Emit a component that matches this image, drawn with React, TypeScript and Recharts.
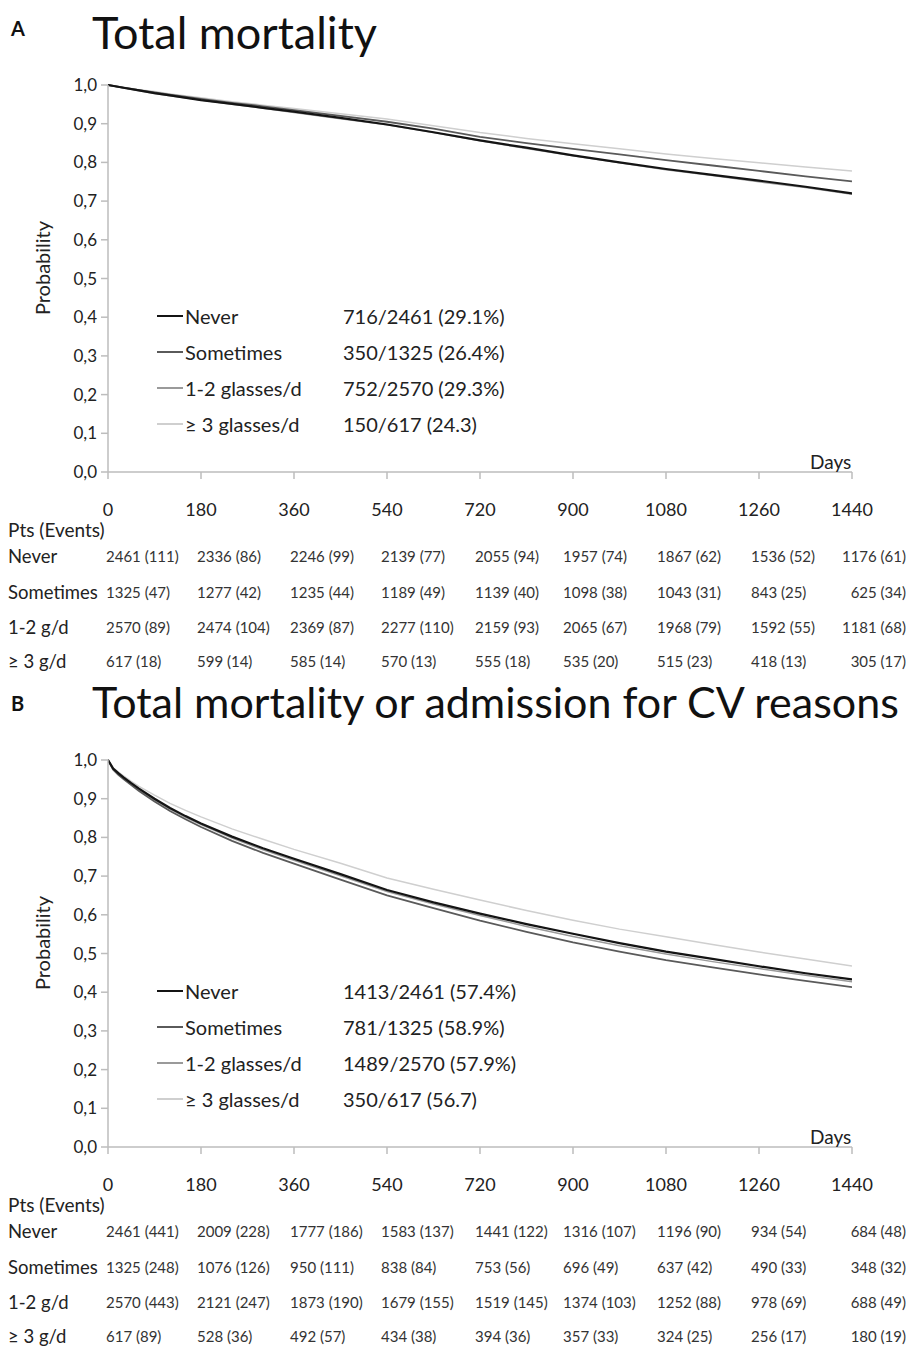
import React from "react";
import { LineChart, Line, XAxis, YAxis } from "recharts";

// ---------- axis ticks ----------
const xTicks = [0, 180, 360, 540, 720, 900, 1080, 1260, 1440];
const yTicks = [0, 0.1, 0.2, 0.3, 0.4, 0.5, 0.6, 0.7, 0.8, 0.9, 1.0];

// ---------- series labels ----------
const seriesNames = ["Never", "Sometimes", "1-2 glasses/d", "\u2265 3 glasses/d"];
const rowNames = ["Never", "Sometimes", "1-2 g/d", "\u2265 3 g/d"];
const seriesColors = ["#141414", "#5a5a5a", "#9a9a9a", "#cfcfcf"];
const seriesWidths = [2.2, 1.8, 1.5, 1.5];

// ---------- Panel A: total mortality ----------
const daysA = [0, 30, 60, 90, 120, 180, 240, 300, 360, 450, 540, 630, 720, 810, 900, 990, 1080, 1170, 1260, 1350, 1440];
const neverA = [1, 0.993, 0.986, 0.979, 0.973, 0.961, 0.951, 0.941, 0.931, 0.915, 0.898, 0.878, 0.857, 0.838, 0.818, 0.8, 0.783, 0.768, 0.753, 0.737, 0.72];
const sometimesA = [1, 0.993, 0.987, 0.981, 0.975, 0.964, 0.954, 0.945, 0.935, 0.92, 0.905, 0.887, 0.866, 0.85, 0.835, 0.821, 0.806, 0.792, 0.778, 0.764, 0.751];
const oneTwoA = [1, 0.992, 0.985, 0.978, 0.972, 0.961, 0.95, 0.94, 0.929, 0.913, 0.897, 0.877, 0.856, 0.836, 0.817, 0.799, 0.781, 0.766, 0.75, 0.735, 0.718];
const threePlusA = [1, 0.994, 0.988, 0.983, 0.977, 0.967, 0.957, 0.948, 0.939, 0.926, 0.912, 0.895, 0.877, 0.862, 0.848, 0.835, 0.822, 0.81, 0.799, 0.788, 0.778];
const legendCountsA = ["716/2461 (29.1%)", "350/1325 (26.4%)", "752/2570 (29.3%)", "150/617 (24.3)"];
const ptsNeverA = [2461, 2336, 2246, 2139, 2055, 1957, 1867, 1536, 1176];
const evNeverA = [111, 86, 99, 77, 94, 74, 62, 52, 61];
const ptsSometimesA = [1325, 1277, 1235, 1189, 1139, 1098, 1043, 843, 625];
const evSometimesA = [47, 42, 44, 49, 40, 38, 31, 25, 34];
const ptsOneTwoA = [2570, 2474, 2369, 2277, 2159, 2065, 1968, 1592, 1181];
const evOneTwoA = [89, 104, 87, 110, 93, 67, 79, 55, 68];
const ptsThreeA = [617, 599, 585, 570, 555, 535, 515, 418, 305];
const evThreeA = [18, 14, 14, 13, 18, 20, 23, 13, 17];

// ---------- Panel B: total mortality or CV admission ----------
const daysB = [0, 10, 20, 30, 45, 60, 90, 120, 150, 180, 240, 300, 360, 450, 540, 630, 720, 810, 900, 990, 1080, 1170, 1260, 1350, 1440];
const neverB = [1, 0.978, 0.966, 0.955, 0.94, 0.926, 0.9, 0.876, 0.855, 0.836, 0.802, 0.772, 0.745, 0.705, 0.664, 0.632, 0.603, 0.576, 0.551, 0.527, 0.505, 0.486, 0.467, 0.449, 0.433];
const sometimesB = [1, 0.975, 0.962, 0.951, 0.935, 0.92, 0.893, 0.868, 0.847, 0.827, 0.791, 0.76, 0.732, 0.691, 0.65, 0.617, 0.585, 0.556, 0.529, 0.505, 0.483, 0.464, 0.446, 0.429, 0.413];
const oneTwoB = [1, 0.977, 0.964, 0.953, 0.937, 0.923, 0.897, 0.873, 0.852, 0.833, 0.798, 0.768, 0.741, 0.701, 0.66, 0.628, 0.598, 0.57, 0.544, 0.52, 0.499, 0.479, 0.461, 0.444, 0.427];
const threePlusB = [1, 0.98, 0.969, 0.959, 0.945, 0.932, 0.909, 0.888, 0.87, 0.853, 0.822, 0.795, 0.769, 0.733, 0.695, 0.666, 0.638, 0.611, 0.586, 0.563, 0.543, 0.523, 0.504, 0.486, 0.468];
const legendCountsB = ["1413/2461 (57.4%)", "781/1325 (58.9%)", "1489/2570 (57.9%)", "350/617 (56.7)"];
const ptsNeverB = [2461, 2009, 1777, 1583, 1441, 1316, 1196, 934, 684];
const evNeverB = [441, 228, 186, 137, 122, 107, 90, 54, 48];
const ptsSometimesB = [1325, 1076, 950, 838, 753, 696, 637, 490, 348];
const evSometimesB = [248, 126, 111, 84, 56, 49, 42, 33, 32];
const ptsOneTwoB = [2570, 2121, 1873, 1679, 1519, 1374, 1252, 978, 688];
const evOneTwoB = [443, 247, 190, 155, 145, 103, 88, 69, 49];
const ptsThreeB = [617, 528, 492, 434, 394, 357, 324, 256, 180];
const evThreeB = [89, 36, 57, 38, 36, 33, 25, 17, 19];

// ---------- layout constants ----------
const FONT = "Lato, 'Open Sans', sans-serif";
const W = 911;
const PLOT_LEFT = 108;
const PLOT_RIGHT = 852;
const PLOT_TOP = 85;
const PLOT_BOTTOM = 472;
const CHART_H = 530;
const colLeft = [106, 197, 290, 381, 475, 563, 657, 751];

type PanelProps = {
  offset: number;
  letter: string;
  title: string;
  titleSize: number;
  titleTop: number;
  days: number[];
  series: number[][];
  counts: string[];
  pts: number[][];
  ev: number[][];
};

const XTick = (props: any) => {
  const { x, y, payload } = props;
  return (
    <text x={x} y={y + 35} textAnchor="middle" fontSize={18} fill="#222" fontFamily={FONT}>
      {payload.value}
    </text>
  );
};

const YTick = (props: any) => {
  const { x, y, payload } = props;
  return (
    <text x={x} y={y + 6} textAnchor="end" fontSize={17} fill="#222" fontFamily={FONT}>
      {payload.value.toFixed(1).replace(".", ",")}
    </text>
  );
};

function Panel(p: PanelProps) {
  const keys = ["s0", "s1", "s2", "s3"];
  const data = p.days.map((d, i) => ({
    day: d,
    s0: p.series[0][i],
    s1: p.series[1][i],
    s2: p.series[2][i],
    s3: p.series[3][i],
  }));
  const legendTop = 316;
  const tableRows = [556, 592, 627, 661];
  return (
    <div style={{ position: "absolute", left: 0, top: p.offset, width: W, height: 675 }}>
      <div style={{ position: "absolute", left: 11, top: 16, fontSize: 20, fontWeight: 700, color: "#111", lineHeight: "24px" }}>
        {p.letter}
      </div>
      <div style={{ position: "absolute", left: 92, top: p.titleTop, fontSize: p.titleSize, color: "#111", lineHeight: "54px", whiteSpace: "nowrap" }}>
        {p.title}
      </div>
      <div style={{ position: "absolute", left: 0, top: 0 }}>
        <LineChart width={W} height={CHART_H} data={data} margin={{ top: PLOT_TOP, right: W - PLOT_RIGHT, left: 0, bottom: CHART_H - PLOT_BOTTOM - 50 }}>
          <XAxis
            dataKey="day"
            type="number"
            domain={[0, 1440]}
            ticks={xTicks}
            interval={0}
            height={50}
            stroke="#bdbdbd"
            strokeWidth={1.5}
            tickSize={7}
            tick={<XTick />}
            allowDataOverflow
          />
          <YAxis
            type="number"
            domain={[0, 1]}
            ticks={yTicks}
            interval={0}
            width={PLOT_LEFT}
            stroke="#bdbdbd"
            strokeWidth={1.5}
            tickSize={7}
            tickMargin={4}
            tick={<YTick />}
          />
          {[3, 2, 1, 0].map((k) => (
            <Line
              key={keys[k]}
              type="linear"
              dataKey={keys[k]}
              stroke={seriesColors[k]}
              strokeWidth={seriesWidths[k]}
              dot={false}
              isAnimationActive={false}
            />
          ))}
        </LineChart>
      </div>
      {/* y-axis title */}
      <div style={{ position: "absolute", left: 42, top: 268, transform: "translate(-50%, -50%) rotate(-90deg)", fontSize: 20, color: "#222", whiteSpace: "nowrap" }}>
        Probability
      </div>
      {/* Days label */}
      <div style={{ position: "absolute", left: 810, top: 451, fontSize: 19, lineHeight: "22px", color: "#222" }}>Days</div>
      {/* legend */}
      {seriesNames.map((n, i) => (
        <div key={n} style={{ position: "absolute", left: 157, top: legendTop + i * 36 - 12, height: 24, width: 420 }}>
          <div style={{ position: "absolute", left: 0, top: 12 - seriesWidths[i] / 2, width: 26, height: seriesWidths[i], background: seriesColors[i] }} />
          <div style={{ position: "absolute", left: 28, top: 0, fontSize: 20, lineHeight: "24px", color: "#222", whiteSpace: "nowrap" }}>{n}</div>
          <div style={{ position: "absolute", left: 186, top: 0, fontSize: 20, lineHeight: "24px", color: "#222", whiteSpace: "nowrap" }}>{p.counts[i]}</div>
        </div>
      ))}
      {/* at-risk table */}
      <div style={{ position: "absolute", left: 8, top: 519, fontSize: 19, lineHeight: "22px", color: "#222" }}>Pts (Events)</div>
      {rowNames.map((n, r) => (
        <React.Fragment key={n}>
          <div style={{ position: "absolute", left: 8, top: tableRows[r] - 11, fontSize: 18.5, lineHeight: "22px", color: "#222", whiteSpace: "nowrap" }}>{n}</div>
          {p.pts[r].map((v, c) => {
            const txt = `${v} (${p.ev[r][c]})`;
            const base: React.CSSProperties = { position: "absolute", top: tableRows[r] - 10, fontSize: 15, lineHeight: "20px", color: "#333", whiteSpace: "nowrap" };
            const style: React.CSSProperties = c < 8 ? { ...base, left: colLeft[c] } : { ...base, right: W - 906 };
            return (
              <div key={c} style={style}>
                {txt}
              </div>
            );
          })}
        </React.Fragment>
      ))}
    </div>
  );
}

export default function App() {
  return (
    <div style={{ position: "absolute", left: 0, top: 0, width: W, height: 1346, background: "#fff", fontFamily: FONT, overflow: "hidden" }}>
      <Panel
        offset={0}
        letter="A"
        title="Total mortality"
        titleSize={45}
        titleTop={5}
        days={daysA}
        series={[neverA, sometimesA, oneTwoA, threePlusA]}
        counts={legendCountsA}
        pts={[ptsNeverA, ptsSometimesA, ptsOneTwoA, ptsThreeA]}
        ev={[evNeverA, evSometimesA, evOneTwoA, evThreeA]}
      />
      <Panel
        offset={675}
        letter="B"
        title="Total mortality or admission for CV reasons"
        titleSize={43}
        titleTop={0}
        days={daysB}
        series={[neverB, sometimesB, oneTwoB, threePlusB]}
        counts={legendCountsB}
        pts={[ptsNeverB, ptsSometimesB, ptsOneTwoB, ptsThreeB]}
        ev={[evNeverB, evSometimesB, evOneTwoB, evThreeB]}
      />
    </div>
  );
}
